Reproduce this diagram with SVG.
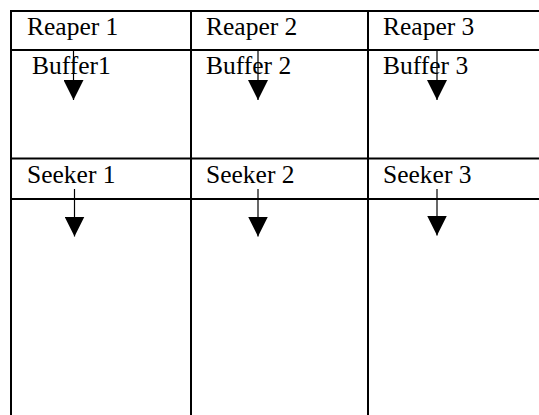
<svg xmlns="http://www.w3.org/2000/svg" width="539" height="415" viewBox="0 0 539 415">
<style>
  .grid { stroke: #000; stroke-width: 2; fill: none; }
  .lbl { font-family: "Liberation Serif", "Times New Roman", serif; font-size: 25.5px; fill: #000; }
  .arr { stroke: #000; stroke-width: 1.2; fill: none; marker-end: url(#head); }
</style>
<defs>
  <marker id="head" viewBox="0 0 20 20" markerWidth="20" markerHeight="20" markerUnits="userSpaceOnUse" refX="20" refY="10" orient="auto">
    <path d="M0,0 L20,10 L0,20 z" fill="#000"/>
  </marker>
</defs>
<rect width="539" height="415" fill="#fff"/>
<g id="grid" class="grid">
  <line x1="11" y1="11" x2="539" y2="11"/>
  <line x1="11" y1="50" x2="539" y2="50"/>
  <line x1="11" y1="158.5" x2="539" y2="158.5"/>
  <line x1="11" y1="199" x2="539" y2="199"/>
  <line x1="11" y1="10" x2="11" y2="415"/>
  <line x1="191" y1="10" x2="191" y2="415"/>
  <line x1="368" y1="10" x2="368" y2="415"/>
</g>
<g id="reaper1"><text class="lbl" x="27" y="35">Reaper 1</text></g>
<g id="reaper2"><text class="lbl" x="206" y="35">Reaper 2</text></g>
<g id="reaper3"><text class="lbl" x="383" y="35">Reaper 3</text></g>
<g id="buffer1"><text class="lbl" x="32" y="74">Buffer1</text></g>
<g id="buffer2"><text class="lbl" x="206" y="74">Buffer 2</text></g>
<g id="buffer3"><text class="lbl" x="383" y="74">Buffer 3</text></g>
<g id="seeker1"><text class="lbl" x="27" y="183">Seeker 1</text></g>
<g id="seeker2"><text class="lbl" x="206" y="183">Seeker 2</text></g>
<g id="seeker3"><text class="lbl" x="383" y="183">Seeker 3</text></g>
<g id="connectors" class="arr">
  <line x1="73.5" y1="51" x2="73.5" y2="100"/>
  <line x1="258" y1="51" x2="258" y2="100"/>
  <line x1="437" y1="51" x2="437" y2="100"/>
  <line x1="74.5" y1="189" x2="74.5" y2="236.5"/>
  <line x1="258" y1="189" x2="258" y2="236.5"/>
  <line x1="437" y1="189" x2="437" y2="235.5"/>
</g>
</svg>
